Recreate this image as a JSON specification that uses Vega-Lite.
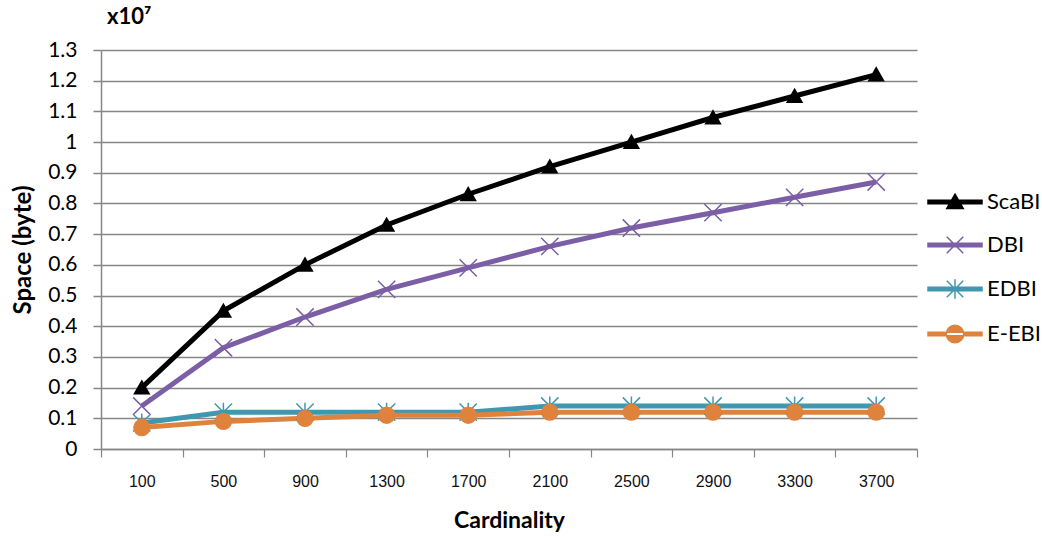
{
  "$schema": "https://vega.github.io/schema/vega-lite/v6.json",
  "width": 816,
  "height": 399,
  "autosize": "none",
  "padding": {"left": 101, "top": 50, "right": 125, "bottom": 89},
  "background": "white",
  "config": {"font": "Lato", "view": {"stroke": null}},
  "title": {"text": "x10⁷", "anchor": "start", "frame": "group", "fontSize": 22, "fontWeight": "bold", "color": "black", "offset": 10, "dx": 6},
  "data": {"values": [
    {"series": "ScaBI", "cardinality": "100", "space": 0.2},
    {"series": "ScaBI", "cardinality": "500", "space": 0.45},
    {"series": "ScaBI", "cardinality": "900", "space": 0.6},
    {"series": "ScaBI", "cardinality": "1300", "space": 0.73},
    {"series": "ScaBI", "cardinality": "1700", "space": 0.83},
    {"series": "ScaBI", "cardinality": "2100", "space": 0.92},
    {"series": "ScaBI", "cardinality": "2500", "space": 1.0},
    {"series": "ScaBI", "cardinality": "2900", "space": 1.08},
    {"series": "ScaBI", "cardinality": "3300", "space": 1.15},
    {"series": "ScaBI", "cardinality": "3700", "space": 1.22},
    {"series": "DBI", "cardinality": "100", "space": 0.14},
    {"series": "DBI", "cardinality": "500", "space": 0.33},
    {"series": "DBI", "cardinality": "900", "space": 0.43},
    {"series": "DBI", "cardinality": "1300", "space": 0.52},
    {"series": "DBI", "cardinality": "1700", "space": 0.59},
    {"series": "DBI", "cardinality": "2100", "space": 0.66},
    {"series": "DBI", "cardinality": "2500", "space": 0.72},
    {"series": "DBI", "cardinality": "2900", "space": 0.77},
    {"series": "DBI", "cardinality": "3300", "space": 0.82},
    {"series": "DBI", "cardinality": "3700", "space": 0.87},
    {"series": "EDBI", "cardinality": "100", "space": 0.085},
    {"series": "EDBI", "cardinality": "500", "space": 0.12},
    {"series": "EDBI", "cardinality": "900", "space": 0.12},
    {"series": "EDBI", "cardinality": "1300", "space": 0.12},
    {"series": "EDBI", "cardinality": "1700", "space": 0.12},
    {"series": "EDBI", "cardinality": "2100", "space": 0.14},
    {"series": "EDBI", "cardinality": "2500", "space": 0.14},
    {"series": "EDBI", "cardinality": "2900", "space": 0.14},
    {"series": "EDBI", "cardinality": "3300", "space": 0.14},
    {"series": "EDBI", "cardinality": "3700", "space": 0.14},
    {"series": "E-EBI", "cardinality": "100", "space": 0.07},
    {"series": "E-EBI", "cardinality": "500", "space": 0.09},
    {"series": "E-EBI", "cardinality": "900", "space": 0.1},
    {"series": "E-EBI", "cardinality": "1300", "space": 0.11},
    {"series": "E-EBI", "cardinality": "1700", "space": 0.11},
    {"series": "E-EBI", "cardinality": "2100", "space": 0.12},
    {"series": "E-EBI", "cardinality": "2500", "space": 0.12},
    {"series": "E-EBI", "cardinality": "2900", "space": 0.12},
    {"series": "E-EBI", "cardinality": "3300", "space": 0.12},
    {"series": "E-EBI", "cardinality": "3700", "space": 0.12}
  ]},
  "encoding": {
    "x": {
      "field": "cardinality", "type": "ordinal", "sort": null,
      "scale": {"type": "band", "paddingInner": 0, "paddingOuter": 0},
      "axis": {
        "title": "Cardinality", "titleFontSize": 23, "titleFontWeight": "bold", "titleColor": "black", "titlePadding": 20,
        "labelAngle": 0, "labelFontSize": 16, "labelFont": "Liberation Sans", "labelColor": "#111111", "labelPadding": 16,
        "tickBand": "extent", "tickSize": 8, "tickColor": "#868686", "tickWidth": 1.2,
        "domainColor": "#868686", "domainWidth": 1.5, "grid": false
      }
    },
    "y": {
      "field": "space", "type": "quantitative",
      "scale": {"domain": [0, 1.3], "nice": false, "zero": true},
      "axis": {
        "title": "Space (byte)", "titleFontSize": 24, "titleFontWeight": "bold", "titleColor": "black", "titlePadding": 12,
        "values": [0, 0.1, 0.2, 0.3, 0.4, 0.5, 0.6, 0.7, 0.8, 0.9, 1, 1.1, 1.2, 1.3],
        "format": "~g",
        "labelFontSize": 21, "labelColor": "black", "labelPadding": 16,
        "tickSize": 8, "tickColor": "#868686", "tickWidth": 1.5,
        "domainColor": "#868686", "domainWidth": 1.5,
        "grid": true, "gridColor": "#868686", "gridWidth": 1.5
      }
    },
    "color": {
      "field": "series", "type": "nominal",
      "scale": {"domain": ["ScaBI", "DBI", "EDBI", "E-EBI"], "range": ["#000000", "#7B5EA6", "#3F98B0", "#DF823C"]},
      "legend": {
        "orient": "none", "legendX": 838, "legendY": 136, "title": null, "padding": 0,
        "symbolSize": 900, "labelOffset": 16, "rowPadding": 16,
        "labelFontSize": 22, "labelColor": "black", "labelFont": "Lato",
        "encode": {"symbols": {"update": {
          "shape": {"signal": "datum.value === 'ScaBI' ? 'M-1.8,-0.12H1.8V0.12H-1.8ZM0,-0.52L0.55,0.44L-0.55,0.44Z' : datum.value === 'DBI' ? 'M-1.8,-0.12H1.8V0.12H-1.8ZM-0.55,-0.55L0.55,0.55M-0.55,0.55L0.55,-0.55' : datum.value === 'EDBI' ? 'M-1.8,-0.12H1.8V0.12H-1.8ZM-0.55,-0.55L0.55,0.55M-0.55,0.55L0.55,-0.55M0,-0.65V0.65' : 'M-1.8,-0.12H1.8V0.12H-1.8ZM-0.58,0A0.58,0.58,0,1,0,0.58,0A0.58,0.58,0,1,0,-0.58,0Z'"},
          "fill": {"signal": "datum.value === 'ScaBI' ? '#000000' : datum.value === 'DBI' ? '#7B5EA6' : datum.value === 'EDBI' ? '#3F98B0' : '#DF823C'"},
          "stroke": {"signal": "datum.value === 'ScaBI' ? '#000000' : datum.value === 'DBI' ? '#7B5EA6' : datum.value === 'EDBI' ? '#3F98B0' : '#DF823C'"},
          "strokeWidth": {"value": 1.5},
          "opacity": {"value": 1}
        }}}
      }
    }
  },
  "layer": [
    {"mark": {"type": "line", "strokeWidth": 5}},
    {
      "transform": [{"filter": "datum.series === 'ScaBI'"}],
      "mark": {"type": "point", "filled": true, "opacity": 1, "size": 300, "shape": "M0,-0.95L1,0.8L-1,0.8Z"}
    },
    {
      "transform": [{"filter": "datum.series === 'DBI'"}],
      "mark": {"type": "point", "filled": false, "opacity": 1, "strokeWidth": 1.5, "size": 300, "shape": "M-1,-1L1,1M-1,1L1,-1"}
    },
    {
      "transform": [{"filter": "datum.series === 'EDBI'"}],
      "mark": {"type": "point", "filled": false, "opacity": 1, "strokeWidth": 1.5, "size": 300, "shape": "M-1,-1L1,1M-1,1L1,-1M0,-1.1V1.1"}
    },
    {
      "transform": [{"filter": "datum.series === 'E-EBI'"}],
      "mark": {"type": "point", "filled": true, "opacity": 1, "size": 300, "shape": "circle"}
    }
  ]
}
